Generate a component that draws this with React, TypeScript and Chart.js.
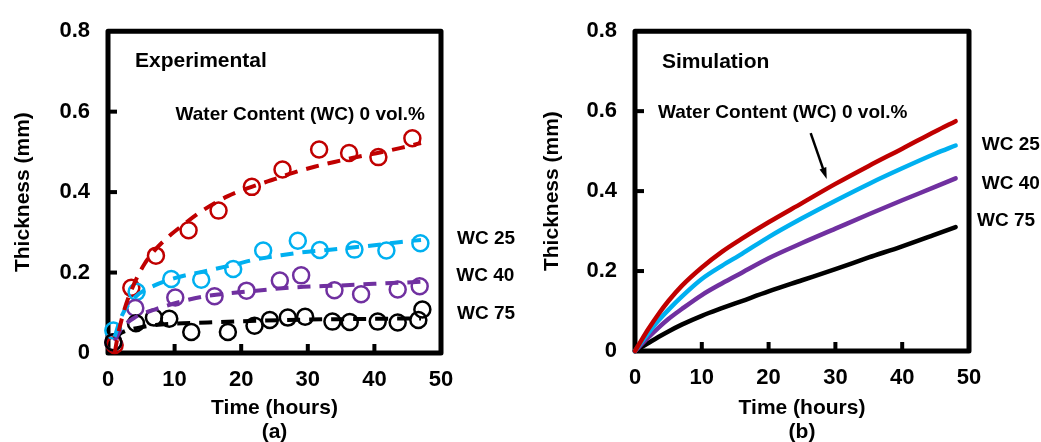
import React, { useEffect, useRef } from "react";
import { Chart, registerables } from "chart.js";
Chart.register(...registerables);

const FONT = '"Liberation Sans", Arial, Helvetica, sans-serif';
const RED = "#C00000";
const CYAN = "#00B0F0";
const PURPLE = "#7030A0";
const BLACK = "#000000";

// ---------- Panel (a): experimental points ----------
const expTimeRed = [1.0, 3.5, 7.2, 12.1, 16.6, 21.6, 26.2, 31.7, 36.2, 40.6, 45.7];
const expRed = [0.02, 0.162, 0.242, 0.305, 0.354, 0.413, 0.456, 0.506, 0.497, 0.487, 0.534];

const expTimeCyan = [0.8, 4.3, 9.5, 14.0, 18.8, 23.3, 28.5, 31.8, 37.0, 41.8, 46.9];
const expCyan = [0.056, 0.152, 0.184, 0.182, 0.209, 0.255, 0.279, 0.256, 0.257, 0.255, 0.273];

const expTimePurple = [0.8, 4.1, 10.1, 16.0, 20.8, 25.8, 29.0, 34.0, 38.0, 43.5, 46.8];
const expPurple = [0.027, 0.112, 0.138, 0.141, 0.155, 0.18, 0.193, 0.156, 0.146, 0.158, 0.166];

const expTimeBlack = [0.8, 4.2, 6.9, 9.2, 12.5, 18.0, 22.0, 24.3, 27.0, 29.6, 33.7, 36.3, 40.5, 43.5, 46.6, 47.2];
const expBlack = [0.027, 0.074, 0.088, 0.085, 0.052, 0.052, 0.068, 0.082, 0.088, 0.09, 0.078, 0.077, 0.078, 0.076, 0.082, 0.108];

// ---------- Panel (a): dashed fit curves ----------
const fitTimeRed = [1, 1.5, 2.5, 4, 5.5, 7, 9, 11, 14, 18, 21, 25, 28, 31, 34, 37, 41, 44, 47];
const fitRed = [0.0, 0.045, 0.11, 0.175, 0.222, 0.255, 0.288, 0.315, 0.352, 0.39, 0.41, 0.432, 0.449, 0.463, 0.475, 0.486, 0.499, 0.51, 0.522];

const fitTimeCyan = [1, 2, 4, 7, 10, 15, 19, 22, 26, 29, 33, 36, 40, 44, 47];
const fitCyan = [0.04, 0.09, 0.138, 0.168, 0.186, 0.205, 0.22, 0.232, 0.243, 0.25, 0.256, 0.261, 0.268, 0.276, 0.281];

const fitTimePurple = [1, 2, 4, 7, 12, 15, 21, 28, 35, 40, 47];
const fitPurple = [0.03, 0.06, 0.088, 0.108, 0.132, 0.142, 0.153, 0.163, 0.168, 0.172, 0.177];

const fitTimeBlack = [1, 2, 5, 8, 15, 20, 29, 35, 40, 47];
const fitBlack = [0.035, 0.05, 0.064, 0.071, 0.076, 0.079, 0.083, 0.084, 0.085, 0.086];

// ---------- Panel (b): simulation ----------
const simTime = [0, 1, 2, 3.5, 5, 7, 10, 13, 16, 20, 25, 30, 35, 40, 45, 48];
const simRed = [0, 0.028, 0.055, 0.092, 0.125, 0.163, 0.209, 0.248, 0.281, 0.322, 0.37, 0.418, 0.463, 0.506, 0.55, 0.575];
const simCyan = [0, 0.023, 0.045, 0.076, 0.103, 0.136, 0.18, 0.213, 0.243, 0.285, 0.332, 0.376, 0.418, 0.457, 0.494, 0.514];
const simPurple = [0, 0.017, 0.034, 0.058, 0.08, 0.105, 0.14, 0.169, 0.196, 0.232, 0.27, 0.306, 0.342, 0.377, 0.411, 0.432];
const simBlack = [0, 0.01, 0.02, 0.035, 0.049, 0.066, 0.088, 0.107, 0.125, 0.149, 0.177, 0.205, 0.234, 0.262, 0.292, 0.31];

const xTickStep = 10;
const yTickStep = 0.2;

const pts = (xs: number[], ys: number[]) => xs.map((x, i) => ({ x, y: ys[i] }));

type Note = { text: string; x: number; y: number; align: CanvasTextAlign; size: number };
type Arrow = { x1: number; y1: number; x2: number; y2: number };

function framePlugin(notes: Note[], arrow?: Arrow) {
  return {
    id: "frame",
    beforeDatasetsDraw(chart: any) {
      const { ctx, chartArea } = chart;
      const { left, right, top, bottom } = chartArea;
      const xs = chart.scales.x;
      const ys = chart.scales.y;
      ctx.save();
      ctx.fillStyle = BLACK;
      xs.ticks.forEach((t: any) => {
        if (t.value <= xs.min || t.value >= xs.max) return;
        const px = xs.getPixelForValue(t.value);
        ctx.fillRect(px - 2, bottom - 9, 4, 9);
      });
      ys.ticks.forEach((t: any) => {
        if (t.value <= ys.min || t.value >= ys.max) return;
        const py = ys.getPixelForValue(t.value);
        ctx.fillRect(left, py - 2, 9, 4);
      });
      ctx.strokeStyle = BLACK;
      ctx.lineWidth = 5;
      ctx.lineJoin = "round";
      ctx.strokeRect(left, top, right - left, bottom - top);
      ctx.restore();
    },
    afterDraw(chart: any) {
      const { ctx } = chart;
      const xs = chart.scales.x;
      const ys = chart.scales.y;
      ctx.save();
      ctx.fillStyle = BLACK;
      ctx.textBaseline = "middle";
      notes.forEach((n) => {
        ctx.font = `bold ${n.size}px ${FONT}`;
        ctx.textAlign = n.align;
        ctx.fillText(n.text, xs.getPixelForValue(n.x), ys.getPixelForValue(n.y));
      });
      if (arrow) {
        const x1 = xs.getPixelForValue(arrow.x1);
        const y1 = ys.getPixelForValue(arrow.y1);
        const x2 = xs.getPixelForValue(arrow.x2);
        const y2 = ys.getPixelForValue(arrow.y2);
        const ang = Math.atan2(y2 - y1, x2 - x1);
        const head = 12;
        ctx.strokeStyle = BLACK;
        ctx.lineWidth = 2.5;
        ctx.beginPath();
        ctx.moveTo(x1, y1);
        ctx.lineTo(x2 - Math.cos(ang) * head * 0.8, y2 - Math.sin(ang) * head * 0.8);
        ctx.stroke();
        ctx.beginPath();
        ctx.moveTo(x2, y2);
        ctx.lineTo(x2 - head * Math.cos(ang - 0.3), y2 - head * Math.sin(ang - 0.3));
        ctx.lineTo(x2 - head * Math.cos(ang + 0.3), y2 - head * Math.sin(ang + 0.3));
        ctx.closePath();
        ctx.fill();
      }
      ctx.restore();
    },
  };
}

type Layout = { top: number; right: number; xh: number; yw: number; ytp: number; tag: string };

function makeOptions(l: Layout): any {
  const tickFont = { size: 22, weight: "bold" as const, family: FONT, lineHeight: 1.2 };
  const titleFont = { size: 21, weight: "bold" as const, family: FONT, lineHeight: 1.15 };
  return {
    responsive: false,
    animation: false,
    events: [],
    layout: { padding: { left: 0, top: l.top, right: l.right, bottom: 0 } },
    plugins: { legend: { display: false }, tooltip: { enabled: false } },
    scales: {
      x: {
        type: "linear",
        min: 0,
        max: 50,
        grid: { display: false, drawTicks: false },
        border: { display: false },
        ticks: { stepSize: xTickStep, padding: 14, color: BLACK, font: tickFont },
        title: {
          display: true,
          text: ["Time (hours)", l.tag],
          color: BLACK,
          font: titleFont,
          padding: { top: 0, bottom: -2 },
        },
        afterFit: (s: any) => {
          s.height = l.xh;
        },
      },
      y: {
        type: "linear",
        min: 0,
        max: 0.8,
        grid: { display: false, drawTicks: false },
        border: { display: false },
        ticks: {
          stepSize: yTickStep,
          padding: 18,
          color: BLACK,
          font: tickFont,
          callback: (v: any) => String(+Number(v).toFixed(2)),
        },
        title: {
          display: true,
          text: "Thickness (mm)",
          color: BLACK,
          font: titleFont,
          padding: { top: l.ytp, bottom: 0 },
        },
        afterFit: (s: any) => {
          s.width = l.yw;
        },
      },
    },
  };
}

const fitDs = (xs: number[], ys: number[], color: string) => ({
  type: "line",
  data: pts(xs, ys),
  borderColor: color,
  borderWidth: 4,
  borderDash: [13, 9],
  pointRadius: 0,
  fill: false,
  cubicInterpolationMode: "monotone",
  clip: false,
});

const markDs = (xs: number[], ys: number[], color: string) => ({
  type: "scatter",
  data: pts(xs, ys),
  borderColor: color,
  backgroundColor: "rgba(0,0,0,0)",
  borderWidth: 2.5,
  pointRadius: 8,
  pointStyle: "circle",
  showLine: false,
  clip: false,
});

const simDs = (ys: number[], color: string) => ({
  type: "line",
  data: pts(simTime, ys),
  borderColor: color,
  borderWidth: 4.5,
  pointRadius: 0,
  fill: false,
  cubicInterpolationMode: "monotone",
  borderCapStyle: "round",
  clip: false,
});

function Panel(props: { kind: "a" | "b"; left: number; width: number }) {
  const ref = useRef<HTMLCanvasElement | null>(null);
  useEffect(() => {
    if (!ref.current) return;
    let chart: Chart;
    if (props.kind === "a") {
      const notes: Note[] = [
        { text: "Experimental", x: 4.05, y: 0.725, align: "left", size: 21 },
        { text: "Water Content (WC) 0 vol.%", x: 47.6, y: 0.592, align: "right", size: 19 },
        { text: "WC 25", x: 52.4, y: 0.285, align: "left", size: 19 },
        { text: "WC 40", x: 52.3, y: 0.193, align: "left", size: 19 },
        { text: "WC 75", x: 52.4, y: 0.097, align: "left", size: 19 },
      ];
      chart = new Chart(ref.current, {
        type: "scatter",
        data: {
          datasets: [
            fitDs(fitTimeRed, fitRed, RED),
            fitDs(fitTimeCyan, fitCyan, CYAN),
            fitDs(fitTimePurple, fitPurple, PURPLE),
            fitDs(fitTimeBlack, fitBlack, BLACK),
            markDs(expTimeBlack, expBlack, BLACK),
            markDs(expTimePurple, expPurple, PURPLE),
            markDs(expTimeCyan, expCyan, CYAN),
            markDs(expTimeRed, expRed, RED),
          ] as any,
        },
        options: makeOptions({ top: 22, right: 79, xh: 89, yw: 108, ytp: 11, tag: "(a)" }),
        plugins: [framePlugin(notes)],
      });
    } else {
      const notes: Note[] = [
        { text: "Simulation", x: 4.04, y: 0.722, align: "left", size: 21 },
        { text: "Water Content (WC) 0 vol.%", x: 3.44, y: 0.596, align: "left", size: 19 },
        { text: "WC 25", x: 51.9, y: 0.516, align: "left", size: 19 },
        { text: "WC 40", x: 51.9, y: 0.419, align: "left", size: 19 },
        { text: "WC 75", x: 51.2, y: 0.325, align: "left", size: 19 },
      ];
      chart = new Chart(ref.current, {
        type: "line",
        data: {
          datasets: [
            simDs(simRed, RED),
            simDs(simCyan, CYAN),
            simDs(simPurple, PURPLE),
            simDs(simBlack, BLACK),
          ] as any,
        },
        options: makeOptions({ top: 21, right: 72, xh: 91, yw: 115, ytp: 20, tag: "(b)" }),
        plugins: [framePlugin(notes, { x1: 26.3, y1: 0.545, x2: 28.7, y2: 0.43 })],
      });
    }
    return () => chart.destroy();
  }, [props.kind]);
  return (
    <canvas
      ref={ref}
      width={props.width}
      height={442}
      style={{ position: "absolute", left: props.left, top: 0, width: props.width, height: 442 }}
    />
  );
}

export default function App() {
  return (
    <div
      style={{
        position: "absolute",
        left: 0,
        top: 0,
        width: 1041,
        height: 442,
        background: "#ffffff",
        overflow: "hidden",
      }}
    >
      <Panel kind="a" left={0} width={520} />
      <Panel kind="b" left={520} width={521} />
    </div>
  );
}
